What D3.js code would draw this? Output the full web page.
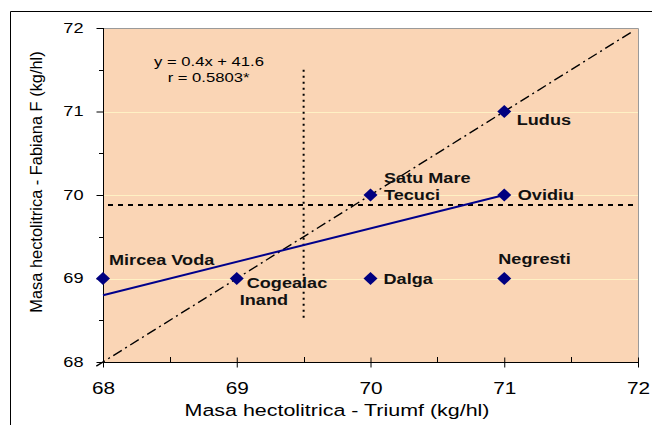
<!DOCTYPE html>
<html>
<head>
<meta charset="utf-8">
<script src="https://cdn.jsdelivr.net/npm/d3@7"></script>
<style>
  body { margin: 0; background: #fff; }
  svg { display: block; font-family: "Liberation Sans", Arial, sans-serif; }
</style>
</head>
<body>
<svg id="chart" width="652" height="425"></svg>
<script>
// Hectolitre mass of varieties at each site: Triumf (x) vs Fabiana F (y)
const sites   = ["Mircea Voda", "Cogealac\nInand", "Satu Mare\nTecuci", "Dalga", "Ludus", "Ovidiu", "Negresti"];
const triumf  = [68, 69, 70, 70, 71, 71, 71];
const fabiana = [69, 69, 70, 69, 71, 70, 69];

// Regression y = 0.4x + 41.6, drawn over the observed x range
const slope = 0.4, intercept = 41.6;
const regX = [68, 71];
const equation = ["y = 0.4x + 41.6", "r = 0.5803*"];

// Reference lines
const diagX = [67.95, 71.96];      // 1:1 line
const meanY = 69.88;               // horizontal dotted line
const meanX = 69.5;                // vertical dotted line
const meanXSpan = [68.5, 71.5];

const xTicks = [68, 69, 70, 71, 72];
const yTicks = [68, 69, 70, 71, 72];
const xMinor = [68.5, 69.5, 70.5, 71.5];
const yMinor = [68.5, 69.5, 70.5, 71.5];

const svg = d3.select("#chart");
const L = 103, R = 638, T = 28, B = 362;
const SX = 1.3;   // horizontal text widening used throughout the chart

const x = d3.scaleLinear().domain([68, 72]).range([L, R]);
const y = d3.scaleLinear().domain([68, 72]).range([B, T]);

// Outer chart frame
svg.append("path")
  .attr("d", `M10.5,440 V11.5 H660`)
  .attr("fill", "none").attr("stroke", "#000").attr("stroke-width", 1);

// Plot area
svg.append("rect")
  .attr("x", L).attr("y", T).attr("width", R - L).attr("height", B - T)
  .attr("fill", "#FAD5B5");

// Horizontal gridlines
svg.append("g").selectAll("line").data(yTicks.slice(1, -1)).join("line")
  .attr("x1", L).attr("x2", R)
  .attr("y1", d => Math.round(y(d)) + 0.5).attr("y2", d => Math.round(y(d)) + 0.5)
  .attr("stroke", "#FFF1C4").attr("stroke-width", 1);

// Plot area top/right border
svg.append("path")
  .attr("d", `M${L},${T + 0.5} H${R + 0.5} V${B}`)
  .attr("fill", "none").attr("stroke", "#9a9a9a").attr("stroke-width", 1);

// Axes
const xAxis = svg.append("g").attr("transform", `translate(0,${B + 0.5})`)
  .call(d3.axisBottom(x).tickValues(xTicks).tickFormat(d3.format("d")).tickSize(5).tickPadding(15));
xAxis.selectAll(".tick line").attr("y1", -5);
const yAxis = svg.append("g").attr("transform", `translate(${L + 0.5},0)`)
  .call(d3.axisLeft(y).tickValues(yTicks).tickFormat(d3.format("d")).tickSize(7).tickPadding(8));
[xAxis, yAxis].forEach(a => {
  a.select(".domain").attr("stroke", "#000");
  a.selectAll(".tick line").attr("stroke", "#000");
  a.selectAll(".tick text").attr("fill", "#000")
    .attr("font-family", "Liberation Sans, Arial, sans-serif");
});
xAxis.selectAll(".tick text").attr("font-size", 16).attr("transform", `scale(${SX},1)`);
yAxis.selectAll(".tick text").attr("font-size", 14).attr("x", 0)
  .attr("transform", `translate(-20,0) scale(${SX},1)`);
yAxis.select(".domain").attr("d", `M0,${T}V${B}`);
xAxis.select(".domain").attr("d", `M${L},0H${R}`);

// Minor ticks
svg.append("g").selectAll("line").data(xMinor).join("line")
  .attr("x1", d => Math.round(x(d)) + 0.5).attr("x2", d => Math.round(x(d)) + 0.5)
  .attr("y1", B - 5).attr("y2", B).attr("stroke", "#000");
svg.append("g").selectAll("line").data(yMinor).join("line")
  .attr("y1", d => Math.round(y(d)) + 0.5).attr("y2", d => Math.round(y(d)) + 0.5)
  .attr("x1", L - 4).attr("x2", L).attr("stroke", "#000");

// 1:1 dash-dot line
svg.append("line")
  .attr("x1", x(diagX[0])).attr("y1", y(diagX[0]))
  .attr("x2", x(diagX[1])).attr("y2", y(diagX[1]))
  .attr("stroke", "#000").attr("stroke-width", 1.4)
  .attr("stroke-dasharray", "10,4,2,4");

// Dotted reference lines
svg.append("line")
  .attr("x1", x(68) + 5).attr("x2", R)
  .attr("y1", y(meanY)).attr("y2", y(meanY))
  .attr("stroke", "#000").attr("stroke-width", 2).attr("stroke-dasharray", "5,5");
svg.append("line")
  .attr("x1", x(meanX)).attr("x2", x(meanX))
  .attr("y1", y(meanXSpan[1])).attr("y2", y(meanXSpan[0]))
  .attr("stroke", "#000").attr("stroke-width", 2).attr("stroke-dasharray", "2,4");

// Regression line
svg.append("line")
  .attr("x1", x(regX[0])).attr("y1", y(slope * regX[0] + intercept))
  .attr("x2", x(regX[1])).attr("y2", y(slope * regX[1] + intercept))
  .attr("stroke", "#00008B").attr("stroke-width", 2);

// Points (diamonds)
const pts = sites.map((s, i) => ({ s, x: triumf[i], y: fabiana[i] }));
svg.append("g").selectAll("path").data(pts).join("path")
  .attr("transform", d => `translate(${x(d.x)},${y(d.y)})`)
  .attr("d", "M0,-6.5L7,0L0,6.5L-7,0Z")
  .attr("fill", "#000080");

// Point labels (offsets relative to each marker, one entry per text line)
const labelPos = {
  "Mircea Voda":       [{ dx: 6,    dy: -14 }],
  "Cogealac\nInand":   [{ dx: 10,   dy: 9 }, { dx: 3, dy: 26 }],
  "Satu Mare\nTecuci": [{ dx: 13.5, dy: -12 }, { dx: 13.5, dy: 5 }],
  "Dalga":             [{ dx: 13,   dy: 5 }],
  "Ludus":             [{ dx: 12.5, dy: 13.5 }],
  "Ovidiu":            [{ dx: 13.5, dy: 5 }],
  "Negresti":          [{ dx: -6,   dy: -15 }]
};
const lab = svg.append("g").attr("font-size", 14.6).attr("font-weight", "bold").attr("fill", "#111");
pts.forEach(p => {
  const lines = p.s.split("\n");
  lines.forEach((t, j) => {
    const pos = labelPos[p.s][j];
    lab.append("text")
      .attr("transform", `translate(${x(p.x) + pos.dx},${y(p.y) + pos.dy}) scale(1.24,1)`)
      .text(t);
  });
});

// Equation
svg.append("g").attr("font-size", 12.5).attr("text-anchor", "middle").attr("fill", "#000")
  .selectAll("text").data(equation).join("text")
  .attr("transform", (d, i) => `translate(${i === 0 ? 209 : 208.5},${66 + i * 16}) scale(1.33,1)`)
  .text(d => d);

// Axis titles
svg.append("text")
  .attr("transform", `translate(337,416) scale(${SX},1)`)
  .attr("text-anchor", "middle").attr("font-size", 16.5)
  .text("Masa hectolitrica - Triumf (kg/hl)");
svg.append("text").attr("transform", `translate(41.5,182) rotate(-90)`)
  .attr("text-anchor", "middle").attr("font-size", 16.4)
  .text("Masa hectolitrica - Fabiana F (kg/hl)");
</script>
</body>
</html>
